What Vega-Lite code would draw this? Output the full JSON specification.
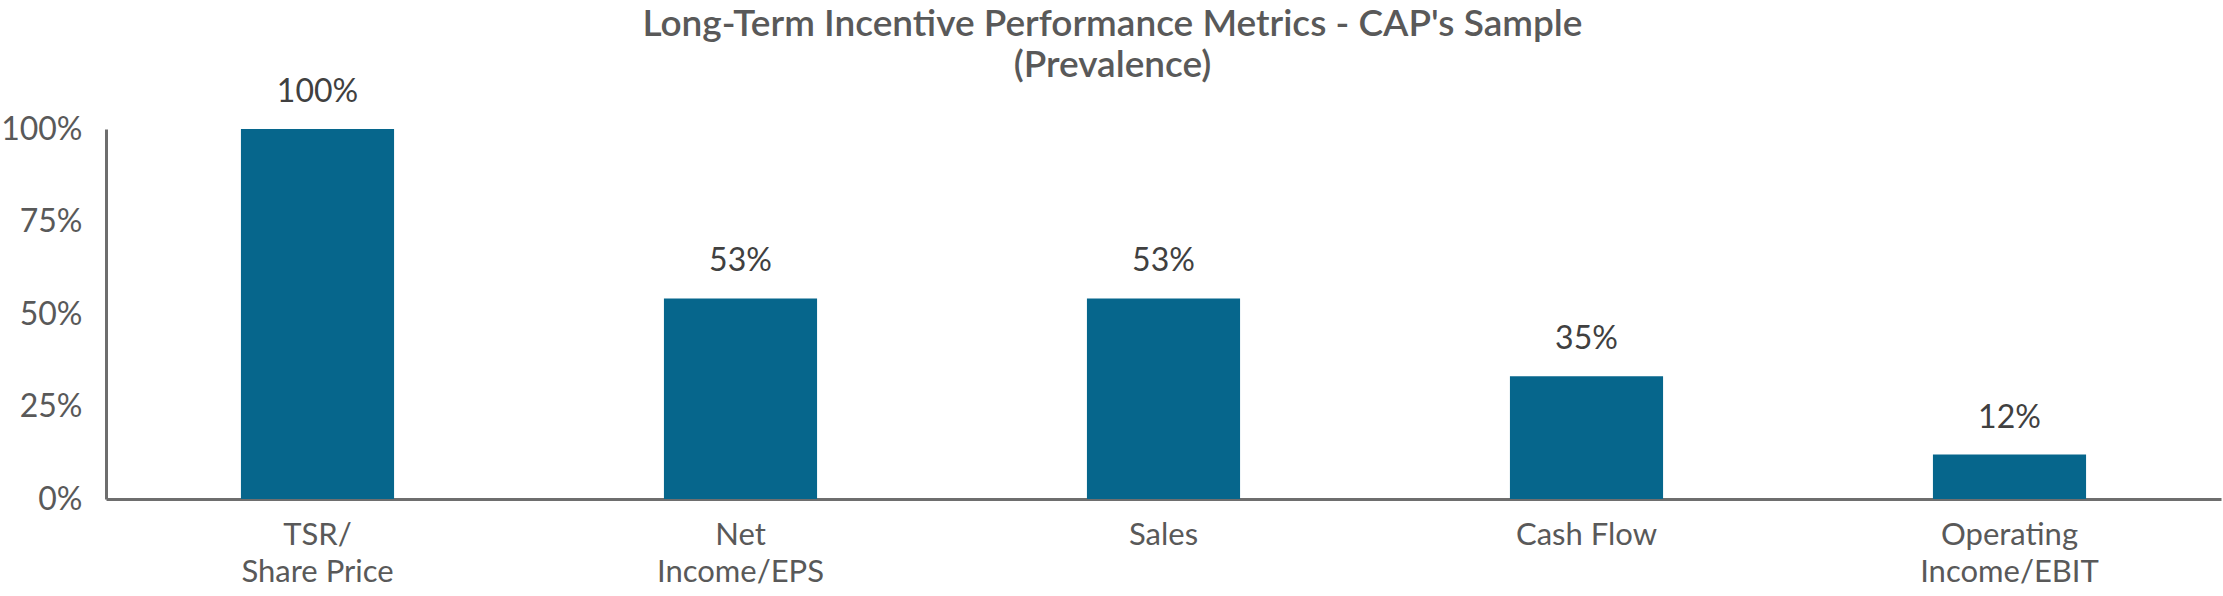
{
  "$schema": "https://vega.github.io/schema/vega-lite/v6.json",
  "autosize": "none",
  "width": 2115,
  "height": 370,
  "padding": {"left": 106, "top": 129, "right": 2, "bottom": 97},
  "background": "white",
  "title": {
    "text": ["Long-Term Incentive Performance Metrics - CAP's Sample", "(Prevalence)"],
    "anchor": "middle",
    "dx": -51,
    "offset": -9,
    "fontSize": 37,
    "lineHeight": 41,
    "fontWeight": 600,
    "font": "Lato",
    "color": "#595959"
  },
  "data": {
    "values": [
      {"metric": "TSR/\nShare Price", "value": 100, "label": "100%"},
      {"metric": "Net\nIncome/EPS", "value": 54.2, "label": "53%"},
      {"metric": "Sales", "value": 54.2, "label": "53%"},
      {"metric": "Cash Flow", "value": 33.2, "label": "35%"},
      {"metric": "Operating\nIncome/EBIT", "value": 12, "label": "12%"}
    ]
  },
  "encoding": {
    "x": {
      "field": "metric",
      "type": "nominal",
      "sort": null,
      "title": null,
      "scale": {"paddingInner": 0.638, "paddingOuter": 0.319},
      "axis": {
        "labelAngle": 0,
        "labelExpr": "split(datum.label, '\\n')",
        "labelFontSize": 31,
        "labelLineHeight": 37,
        "labelPadding": 21,
        "labelBaseline": "top",
        "labelColor": "#595959",
        "labelFont": "Lato",
        "ticks": false,
        "domainColor": "#6e6e6e",
        "domainWidth": 3
      }
    },
    "y": {
      "field": "value",
      "type": "quantitative",
      "title": null,
      "scale": {"domain": [0, 100], "nice": false},
      "axis": {
        "values": [0, 25, 50, 75, 100],
        "labelExpr": "datum.value + '%'",
        "labelFontSize": 32,
        "labelPadding": 24,
        "labelColor": "#595959",
        "labelFont": "Lato",
        "ticks": false,
        "grid": false,
        "domainColor": "#6e6e6e",
        "domainWidth": 3
      }
    }
  },
  "layer": [
    {"mark": {"type": "bar", "color": "#06668c"}},
    {
      "mark": {
        "type": "text",
        "dy": -27,
        "baseline": "alphabetic",
        "fontSize": 32,
        "font": "Lato",
        "color": "#404040"
      },
      "encoding": {"text": {"field": "label"}}
    }
  ],
  "config": {"view": {"stroke": null}}
}
